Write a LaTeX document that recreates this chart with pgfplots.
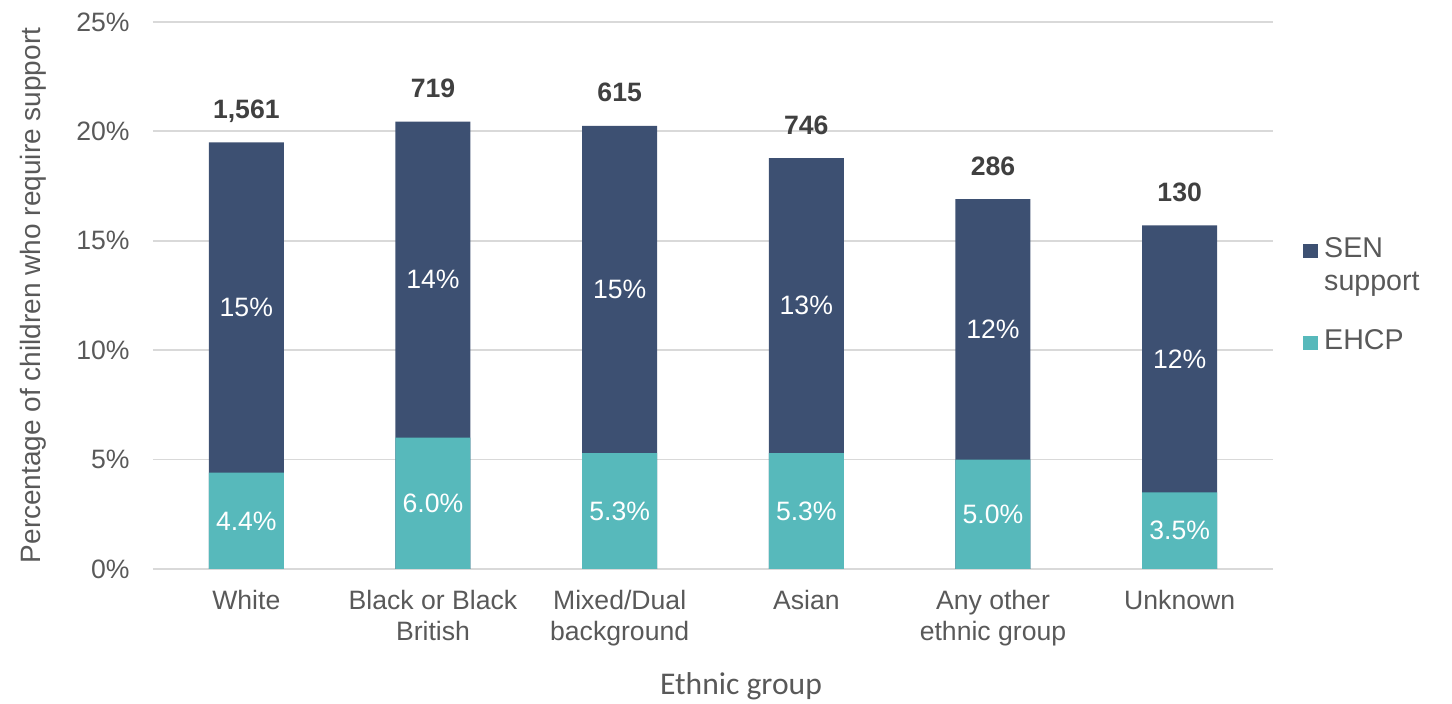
\documentclass[border=0pt]{standalone}
\usepackage{pgfplots}
\usepackage{pgfplotstable}
\pgfplotsset{compat=1.18}
\usepackage{fontspec}
\setmainfont{Liberation Sans}
\newfontfamily\carlito{Carlito}
\definecolor{navy}{HTML}{3D5072}
\definecolor{tealc}{HTML}{57B9BB}
\definecolor{txt}{HTML}{595959}
\definecolor{dtxt}{HTML}{404040}
\definecolor{grd}{HTML}{D9D9D9}
\newcommand\fs{\fontsize{13.3pt}{15.5pt}\selectfont}
\pgfplotstableread{
x ehcp sen total
0 4.4 15.1 1561
1 6.0 14.45 719
2 5.3 14.95 615
3 5.3 13.48 746
4 5.0 11.9 286
5 3.5 12.2 130
}\data
\begin{document}
\begin{tikzpicture}
\useasboundingbox (-76.5pt,-67.5pt) rectangle (649.5pt,284.5pt);
\begin{axis}[
  at={(0,0)}, anchor=south west,
  width=560pt, height=273.5pt, scale only axis,
  xmin=-0.5, xmax=5.5, ymin=0, ymax=25,
  enlargelimits=false, clip=false,
  axis line style={draw=none},
  tick style={draw=none},
  ymajorgrids, grid style={grd, line width=0.9pt},
  ytick={0,5,10,15,20,25},
  yticklabel={\pgfmathprintnumber{\tick}\%},
  /pgf/number format/assume math mode=true,
  yticklabel style={font=\fs, text=txt, inner sep=0pt, anchor=east, xshift=-11.5pt},
  xtick={0,1,2,3,4,5},
  xticklabels={White,{Black or Black\\British},{Mixed/Dual\\background},Asian,{Any other\\ethnic group},Unknown},
  xticklabel style={font=\fs, text=txt, align=center, inner sep=0pt, anchor=north, yshift=-10.5pt},
  ylabel={Percentage of children who require support},
  every axis y label/.style={at={(axis description cs:-0.1071,0.5)}, rotate=90, anchor=center, font=\fontsize{14pt}{16pt}\selectfont, text=txt},
  xlabel={Ethnic group},
  every axis x label/.style={at={(axis description cs:0.525,-0.2303)}, anchor=base, inner sep=0pt, font={\carlito\fontsize{15.8pt}{18pt}\selectfont}, text=txt},
  legend style={draw=none, fill=none, inner sep=0pt, at={(1.0268,0.614)}, anchor=north west,
    font=\fontsize{14.3pt}{16pt}\selectfont, text=txt, row sep=-0.5pt, column sep=1pt, cells={anchor=base west, inner sep=0pt}},
]
% total bars (SEN support on top of EHCP)
\addplot[ybar, bar width=37.5pt, bar shift=0pt, fill=navy, draw=none, forget plot]
  table[x=x, y expr=\thisrow{ehcp}+\thisrow{sen}] {\data};
% EHCP bars
\addplot[ybar, bar width=37.5pt, bar shift=0pt, fill=tealc, draw=none, forget plot]
  table[x=x, y=ehcp] {\data};
% SEN labels
\addplot[draw=none, mark=none, forget plot, point meta=explicit,
  nodes near coords={\pgfmathprintnumber[fixed,precision=0]{\pgfplotspointmeta}\%},
  nodes near coords style={anchor=center, text=white, font=\fs, inner sep=0pt}]
  table[x=x, y expr=\thisrow{ehcp}+0.5*\thisrow{sen}, meta=sen] {\data};
% EHCP labels
\addplot[draw=none, mark=none, forget plot, point meta=explicit,
  nodes near coords={\pgfmathprintnumber[fixed,precision=1,zerofill]{\pgfplotspointmeta}\%},
  nodes near coords style={anchor=center, text=white, font=\fs, inner sep=0pt}]
  table[x=x, y expr=0.5*\thisrow{ehcp}, meta=ehcp] {\data};
% totals
\addplot[draw=none, mark=none, forget plot, point meta=explicit,
  nodes near coords={\pgfmathprintnumber[fixed,precision=0,1000 sep={,}]{\pgfplotspointmeta}},
  nodes near coords style={anchor=base, yshift=12pt, text=dtxt, font=\fs\bfseries, inner sep=0pt}]
  table[x=x, y expr=\thisrow{ehcp}+\thisrow{sen}, meta=total] {\data};
\addlegendimage{legend image code/.code={\fill[navy] (0pt,0pt) rectangle (7pt,6.5pt);}}
\addlegendentry[text height=10pt, text depth=3pt]{SEN}
\addlegendimage{empty legend}
\addlegendentry[text height=10pt, text depth=16pt]{support}
\addlegendimage{legend image code/.code={\fill[tealc] (0pt,0pt) rectangle (7pt,6.5pt);}}
\addlegendentry[text height=10pt, text depth=3pt]{EHCP}
\end{axis}
\end{tikzpicture}
\end{document}
